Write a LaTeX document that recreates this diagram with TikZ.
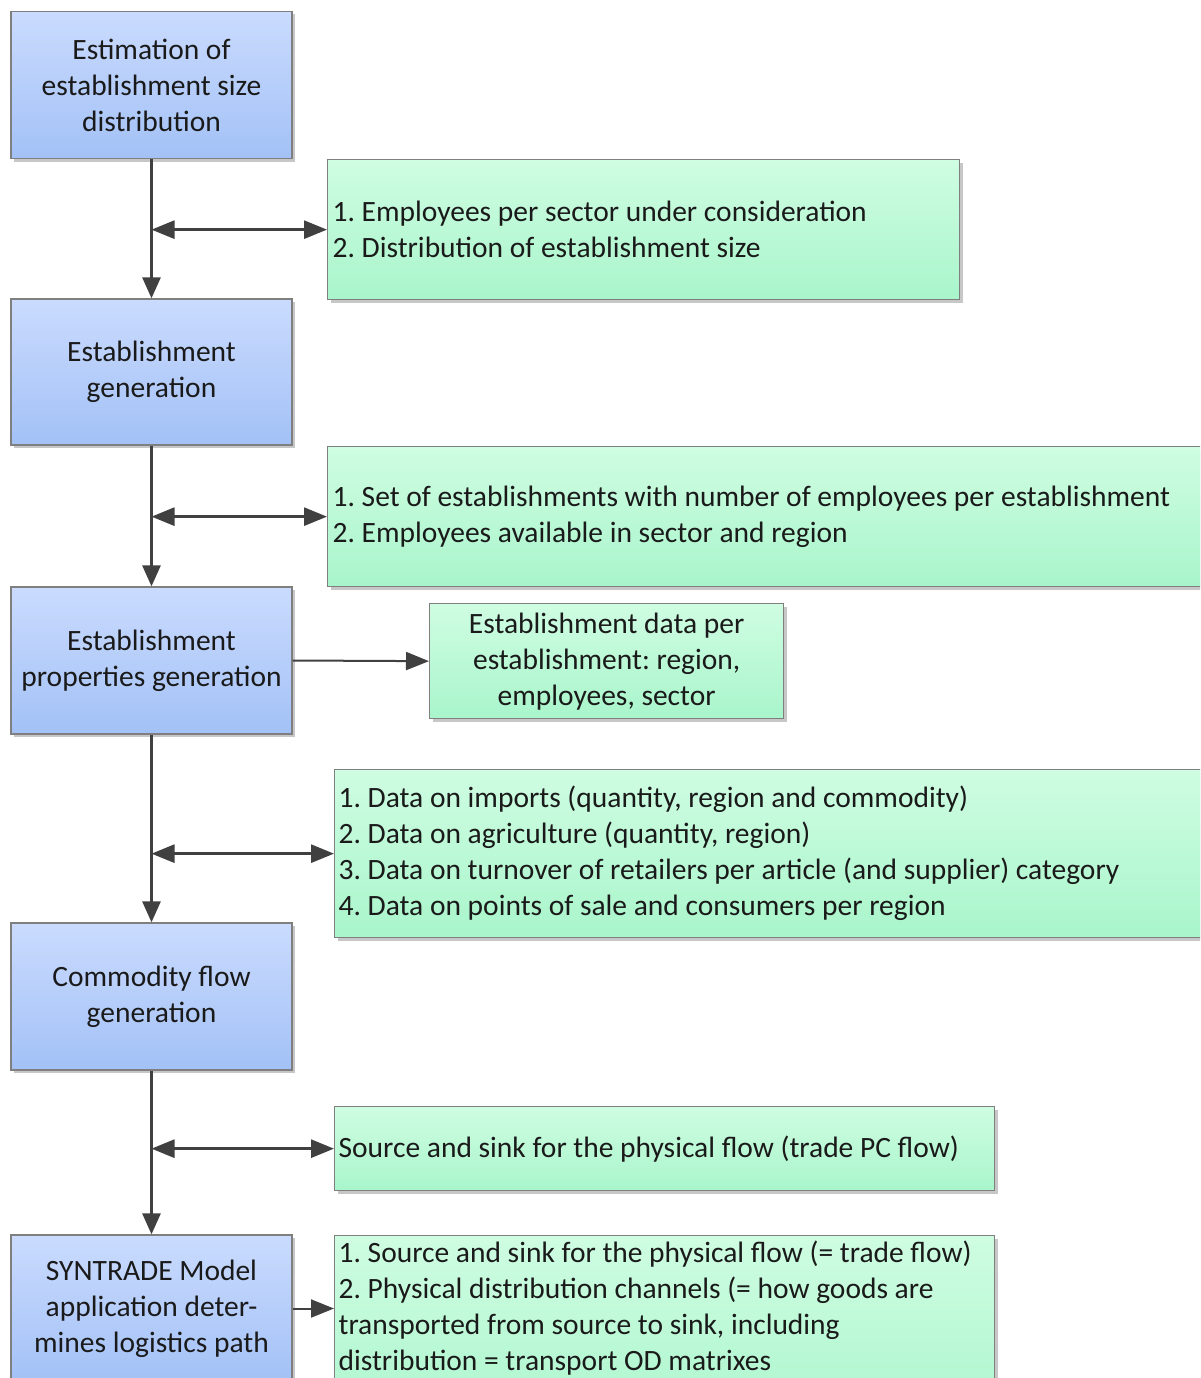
\documentclass[tikz,border=0pt]{standalone}
\usepackage{fontspec}
\setmainfont{Carlito}
\usetikzlibrary{arrows.meta,shadows}
\definecolor{bluetop}{HTML}{CADBFE}
\definecolor{bluebot}{HTML}{A3C1F6}
\definecolor{greentop}{HTML}{CFFDE2}
\definecolor{greenbot}{HTML}{A9F5CB}
\definecolor{edgegray}{HTML}{7F7F7F}
\definecolor{arrowgray}{HTML}{404040}
\definecolor{textblack}{HTML}{1A1A1A}
\begin{document}
\frenchspacing
\begin{tikzpicture}[x=1pt,y=-1pt,
  box/.style={draw=edgegray, line width=1.3pt, rectangle, inner ysep=0pt,
    font=\fontsize{29.5}{36}\selectfont\frenchspacing, text=textblack,
    drop shadow={shadow xshift=3pt, shadow yshift=-3pt, fill=black, opacity=0.22}},
  bluebox/.style={box, top color=bluetop, bottom color=bluebot,
    minimum width=281pt, minimum height=147pt, align=flush center, inner xsep=0pt},
  greenbox/.style={box, top color=greentop, bottom color=greenbot, anchor=north west},
  conn/.style={draw=arrowgray, line width=2.8pt, -{Triangle[length=21pt,width=18pt]}},
  dconn/.style={conn, {Triangle[length=23pt,width=18pt]}-{Triangle[length=23pt,width=18pt]}},
  sconn/.style={draw=arrowgray, line width=2pt, -{Triangle[length=23pt,width=18pt]}}
]
\useasboundingbox (0,0) rectangle (1200,1378);
\clip (0,0) rectangle (1200,1378);

\node[bluebox] (b1) at (151.5,85) {Estimation of\\establishment size\\distribution};
\node[bluebox, minimum height=146pt] (b2) at (151.5,372) {Establishment\\generation};
\node[bluebox] (b3) at (151.5,660.5) {Establishment\\properties generation};
\node[bluebox] (b4) at (151.5,996.5) {Commodity flow\\generation};
\node[bluebox] (b5) at (151.5,1308.5) {SYNTRADE Model\\application deter-\\mines logistics path};

\node[greenbox, text width=622pt, inner xsep=5pt, minimum height=140pt, align=flush left] (g1) at (327,159)
  {1. Employees per sector under consideration\\2. Distribution of establishment size};
\node[greenbox, text width=920pt, inner xsep=5pt, minimum height=140pt, align=flush left] (g2) at (327,446)
  {1. Set of establishments with number of employees per establishment\\2. Employees available in sector and region};
\node[greenbox, text width=354pt, inner xsep=0pt, minimum height=115pt, align=flush center] (g3) at (429,603)
  {Establishment data per\\establishment: region,\\employees, sector};
\node[greenbox, text width=920pt, inner xsep=4pt, minimum height=168pt, align=flush left] (g4) at (334,769)
  {1. Data on imports (quantity, region and commodity)\\2. Data on agriculture (quantity, region)\\3. Data on turnover of retailers per article (and supplier) category\\4. Data on points of sale and consumers per region};
\node[greenbox, text width=652pt, inner xsep=4pt, minimum height=84pt, align=flush left] (g5) at (334,1106)
  {Source and sink for the physical flow (trade PC flow)};
\node[greenbox, inner xsep=4pt, inner ysep=2pt] (g6) at (334,1235)
  {\parbox[t][200pt][t]{652pt}{\strut 1. Source and sink for the physical flow (= trade flow)\\
  2. Physical distribution channels (= how goods are\\
  transported from source to sink, including\\
  distribution = transport OD matrixes}};

\draw[conn] (b1.south) -- (b2.north);
\draw[conn] (b2.south) -- (b3.north);
\draw[conn] (b3.south) -- (b4.north);
\draw[conn] (b4.south) -- (b5.north);

\draw[dconn] (b1.south |- g1.west) -- (g1.west);
\draw[dconn] (b2.south |- g2.west) -- (g2.west);
\draw[sconn] (b3.east) -- (g3.west);
\draw[dconn] (b3.south |- g4.west) -- (g4.west);
\draw[dconn] (b4.south |- g5.west) -- (g5.west);
\draw[sconn] (b5.east) -- (b5.east -| g6.west);
\end{tikzpicture}
\end{document}
